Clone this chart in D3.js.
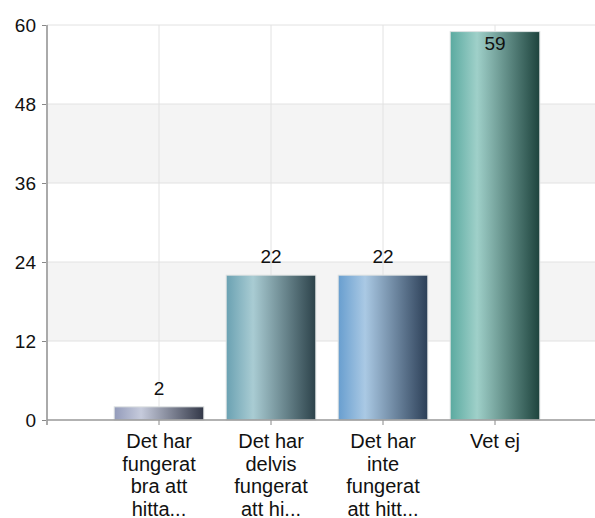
<!DOCTYPE html>
<html>
<head>
<meta charset="utf-8">
<script src="https://cdn.jsdelivr.net/npm/d3@7"></script>
<style>
  body { margin: 0; background: #fff; }
  svg { display: block; font-family: Arial, "Liberation Sans", sans-serif; }
</style>
</head>
<body>
<div id="chart"></div>
<script>
// Data
const categories = ["Det har fungerat bra att hitta...", "Det har delvis fungerat att hi...", "Det har inte fungerat att hitt...", "Vet ej"]
const labelLines = [
    ["Det har", "fungerat", "bra att", "hitta..."],
    ["Det har", "delvis", "fungerat", "att hi..."],
    ["Det har", "inte", "fungerat", "att hitt..."],
    ["Vet ej"]
]
const values = [2, 22, 22, 59]
const yTicks = [0, 12, 24, 36, 48, 60]
const barColors = [
    ["#939bba", "#c6cbdc", "#323747"],
    ["#6aa1b2", "#a9ccd3", "#2c424a"],
    ["#689ecf", "#aac9e4", "#2c3f57"],
    ["#5aaaa0", "#9fd0c9", "#1d433d"]
]

function drawBars() {
    const dimensions = {
        width: 595,
        height: 518,
        margins: { top: 25, left: 47, bottom: 98 }
    }
    const plotBottom = dimensions.height - dimensions.margins.bottom

    const wrapper = d3.select("#chart").append("svg")
        .attr("width", dimensions.width)
        .attr("height", dimensions.height)

    const defs = wrapper.append("defs")
    barColors.forEach((c, i) => {
        const g = defs.append("linearGradient")
            .attr("id", "grad" + i)
            .attr("x1", "0%").attr("x2", "100%")
            .attr("y1", "0%").attr("y2", "0%")
        g.append("stop").attr("offset", "0%").attr("stop-color", c[0])
        g.append("stop").attr("offset", "30%").attr("stop-color", c[1])
        g.append("stop").attr("offset", "100%").attr("stop-color", c[2])
    })

    // Scales
    const yScale = d3.scaleLinear()
        .domain([0, 60])
        .range([plotBottom, dimensions.margins.top])

    const xScale = d3.scaleBand()
        .domain(categories)
        .range([dimensions.margins.left, dimensions.margins.left + 560])
        .paddingInner(0.2)
        .paddingOuter(0.6)

    const left = dimensions.margins.left
    const right = dimensions.width

    // Alternating bands
    for (let i = 0; i < yTicks.length - 1; i++) {
        if (i % 2 === 1) {
            wrapper.append("rect")
                .attr("x", left)
                .attr("y", yScale(yTicks[i + 1]))
                .attr("width", right - left)
                .attr("height", yScale(yTicks[i]) - yScale(yTicks[i + 1]))
                .attr("fill", "#f4f4f4")
        }
    }

    // Horizontal grid
    wrapper.append("g")
        .selectAll("line")
        .data(yTicks.slice(1))
        .join("line")
        .attr("x1", left).attr("x2", right)
        .attr("y1", d => yScale(d)).attr("y2", d => yScale(d))
        .attr("stroke", "#e2e2e2")

    // Vertical grid
    wrapper.append("g")
        .selectAll("line")
        .data(categories)
        .join("line")
        .attr("x1", d => xScale(d) + xScale.bandwidth() / 2)
        .attr("x2", d => xScale(d) + xScale.bandwidth() / 2)
        .attr("y1", yScale(60)).attr("y2", plotBottom)
        .attr("stroke", "#e2e2e2")

    // Bars
    wrapper.append("g")
        .selectAll("rect")
        .data(values)
        .join("rect")
        .attr("x", (d, i) => xScale(categories[i]))
        .attr("y", d => yScale(d))
        .attr("width", xScale.bandwidth())
        .attr("height", d => plotBottom - yScale(d))
        .attr("fill", (d, i) => `url(#grad${i})`)
        .attr("stroke", "#dde2e2")
        .attr("stroke-width", 1)

    // Value labels
    wrapper.append("g")
        .selectAll("text")
        .data(values)
        .join("text")
        .attr("x", (d, i) => xScale(categories[i]) + xScale.bandwidth() / 2)
        .attr("y", d => d > 55 ? yScale(d) + 18 : yScale(d) - 12)
        .attr("text-anchor", "middle")
        .attr("font-size", 19)
        .attr("fill", "#111")
        .text(d => d)

    // Y axis
    const yAxis = wrapper.append("g")
        .attr("transform", `translate(${left},0)`)
        .call(d3.axisLeft(yScale).tickValues(yTicks).tickSize(5).tickPadding(6))
    yAxis.select(".domain").remove()
    yAxis.selectAll(".tick line").attr("stroke", "#888")
    yAxis.selectAll(".tick text")
        .attr("font-size", 19)
        .attr("font-family", "Arial, 'Liberation Sans', sans-serif")
        .attr("fill", "#111")
    wrapper.append("line")
        .attr("x1", left).attr("x2", left)
        .attr("y1", yScale(60)).attr("y2", plotBottom + 5)
        .attr("stroke", "#aaa").attr("stroke-width", 2)

    // X axis
    const xAxis = wrapper.append("g")
        .attr("transform", `translate(0,${plotBottom})`)
        .call(d3.axisBottom(xScale).tickSize(5).tickFormat(""))
    xAxis.select(".domain").remove()
    xAxis.selectAll(".tick line").attr("stroke", "#888")
    wrapper.append("line")
        .attr("x1", left).attr("x2", right)
        .attr("y1", plotBottom).attr("y2", plotBottom)
        .attr("stroke", "#999").attr("stroke-width", 1.5)

    // Category labels
    const labels = wrapper.append("g")
        .selectAll("text")
        .data(categories)
        .join("text")
        .attr("x", d => xScale(d) + xScale.bandwidth() / 2)
        .attr("y", plotBottom + 28)
        .attr("text-anchor", "middle")
        .attr("font-size", 20)
        .attr("fill", "#111")
    labels.selectAll("tspan")
        .data((d, i) => labelLines[i])
        .join("tspan")
        .attr("x", function () { return this.parentNode.getAttribute("x") })
        .attr("dy", (d, i) => i === 0 ? 0 : 22.5)
        .text(d => d)
}

drawBars()
</script>
</body>
</html>
